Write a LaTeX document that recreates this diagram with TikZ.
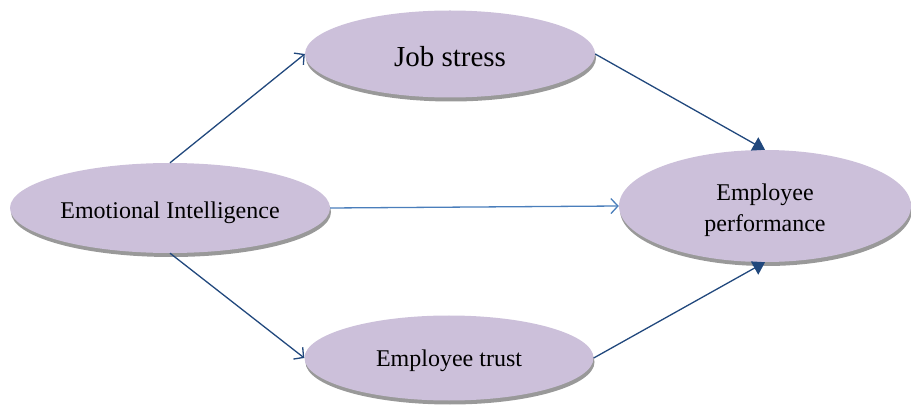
\documentclass[tikz,border=0pt]{standalone}
\usepackage{fontspec}
\setmainfont{Liberation Serif}
\usetikzlibrary{shapes.geometric,arrows.meta,shadows}

\definecolor{bubble}{RGB}{204,192,218}
\definecolor{linkdark}{RGB}{33,72,125}
\definecolor{linklight}{RGB}{74,126,187}

\tikzset{
  construct/.style={ellipse, fill=bubble, inner sep=0pt,
    drop shadow={shadow xshift=1pt, shadow yshift=-4pt, fill=black!40, opacity=1}},
  caption/.style={align=center, inner sep=0pt, font=\fontsize{24}{31}\selectfont},
  openlink/.style={draw=linkdark, line width=1.3pt,
    -{Straight Barb[length=7pt,width=15pt,line width=1.3pt]}},
  midlink/.style={draw=linklight, line width=1.3pt,
    -{Straight Barb[length=7pt,width=15pt,line width=1.3pt]}},
  filledlink/.style={draw=linkdark, line width=1.3pt,
    -{Triangle[length=12pt,width=15pt]}, color=linkdark}
}

\begin{document}
\begin{tikzpicture}[x=1pt,y=-1pt]
  \useasboundingbox (0,0) rectangle (911,406);

  % constructs of the model
  \node[construct, minimum width=290pt, minimum height=87pt] (js) at (450,54) {};
  \node[construct, minimum width=320pt, minimum height=90pt] (ei) at (170,208) {};
  \node[construct, minimum width=292pt, minimum height=112pt] (ep) at (765,206) {};
  \node[construct, minimum width=289pt, minimum height=85pt] (et) at (449,358) {};

  % their names, set a little below the centre
  \node[caption, font=\fontsize{29}{34}\selectfont] (jst) at (450,57) {Job stress};
  \node[caption] (eit) at (170,213) {Emotional Intelligence};
  \node[caption] (ept) at (765,210) {Employee\\performance};
  \node[caption] (ett) at (449,361) {Employee trust};

  % paths between constructs
  \draw[openlink] (ei.north) -- (js.west);
  \draw[midlink] (ei.east) -- (ep.west);
  \draw[openlink] (ei.south) -- (et.west);
  \draw[filledlink] (js.east) -- (ep.north);
  \draw[filledlink] (et.east) -- (ep.south);
\end{tikzpicture}
\end{document}
